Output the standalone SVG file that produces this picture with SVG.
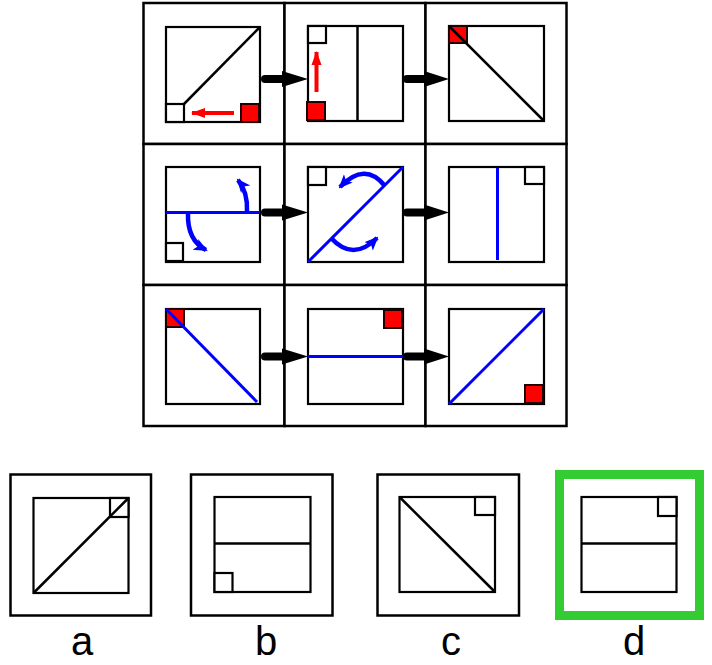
<svg xmlns="http://www.w3.org/2000/svg" width="712" height="665" viewBox="0 0 712 665">
<style>
.cell{fill:#fff;stroke:#000;stroke-width:2.5}
.inner{fill:#fff;stroke:#000;stroke-width:2.2}
.bl{stroke:#000;stroke-width:2.5;fill:none}
.blue{stroke:#0000ff;stroke-width:3;fill:none}
.sq{fill:#fff;stroke:#000;stroke-width:2.2}
.red{fill:#ff0000;stroke:#200;stroke-width:2}
.redl{stroke:#ff0000;stroke-width:4;fill:none}
.arc{stroke:#0000ff;stroke-width:4.5;fill:none}
.conn{stroke:#000;stroke-width:8;stroke-linecap:round;fill:none}
.lbl{font-family:"Liberation Sans",Arial,sans-serif;font-size:40px;fill:#000;text-anchor:middle}
</style>
<defs>
<marker id="bh" markerUnits="userSpaceOnUse" markerWidth="14" markerHeight="14" viewBox="0 0 14 14" refX="12" refY="7" orient="auto">
<path d="M0,1 L14,7 L0,13 L3.5,7 Z" fill="#0000ff"/>
</marker>
<marker id="rh" markerUnits="userSpaceOnUse" markerWidth="14" markerHeight="11" viewBox="0 0 14 11" refX="13" refY="5.5" orient="auto">
<path d="M0,0.5 L14,5.5 L0,10.5 Z" fill="#ff0000"/>
</marker>
</defs>

<g id="cell-1-1">
<rect class="cell" x="143.5" y="3" width="141" height="141"/>
<rect class="inner" x="166" y="27" width="94" height="95"/>
<line class="bl" x1="183" y1="105" x2="260" y2="27"/>
<rect class="sq" x="166" y="104" width="18" height="18"/>
<rect class="red" x="241" y="104" width="18" height="18"/>
<line class="redl" x1="234" y1="113" x2="192" y2="113" marker-end="url(#rh)"/>
</g>
<g id="cell-1-2">
<rect class="cell" x="284.5" y="3" width="141" height="141"/>
<rect class="inner" x="308" y="26" width="95" height="95"/>
<line class="bl" x1="357.5" y1="26" x2="357.5" y2="121"/>
<rect class="sq" x="308" y="26" width="18" height="17"/>
<rect class="red" x="307" y="102" width="18" height="18"/>
<line class="redl" x1="316.5" y1="92" x2="316.5" y2="52" marker-end="url(#rh)"/>
</g>
<g id="cell-1-3">
<rect class="cell" x="425.5" y="3" width="141" height="141"/>
<rect class="inner" x="449" y="26" width="95" height="95"/>
<rect class="red" x="449" y="26" width="18" height="17"/>
<line class="bl" x1="449" y1="26" x2="544" y2="121"/>
</g>

<g id="cell-2-1">
<rect class="cell" x="143.5" y="144" width="141" height="141"/>
<rect class="inner" x="166" y="167" width="94" height="95"/>
<line class="blue" x1="166" y1="212.5" x2="260" y2="212.5"/>
<rect class="sq" x="166" y="243" width="17" height="18"/>
<path class="arc" d="M247,212 Q248,192 238,180" marker-end="url(#bh)"/>
<path class="arc" d="M188,213 Q187,240 206,250" marker-end="url(#bh)"/>
</g>
<g id="cell-2-2">
<rect class="cell" x="284.5" y="144" width="141" height="141"/>
<rect class="inner" x="308" y="167" width="95" height="95"/>
<rect class="sq" x="308" y="167" width="18" height="18"/>
<line class="blue" x1="308" y1="262" x2="403" y2="167"/>
<path class="arc" d="M385,186 Q365,161 340,187" marker-end="url(#bh)"/>
<path class="arc" d="M331,238 Q353,262 377,238" marker-end="url(#bh)"/>
</g>
<g id="cell-2-3">
<rect class="cell" x="425.5" y="144" width="141" height="141"/>
<rect class="inner" x="449" y="167" width="95" height="95"/>
<line class="blue" x1="497.5" y1="168" x2="497.5" y2="260"/>
<rect class="sq" x="525" y="167" width="19" height="17"/>
</g>

<g id="cell-3-1">
<rect class="cell" x="143.5" y="285" width="141" height="141"/>
<rect class="inner" x="166" y="309" width="94" height="95"/>
<rect class="red" x="166" y="309" width="18" height="18"/>
<line class="blue" x1="166" y1="309" x2="257" y2="402"/>
</g>
<g id="cell-3-2">
<rect class="cell" x="284.5" y="285" width="141" height="141"/>
<rect class="inner" x="308" y="309" width="95" height="95"/>
<rect class="red" x="384" y="310" width="18" height="18"/>
<line class="blue" x1="308" y1="356.5" x2="403" y2="356.5"/>
</g>
<g id="cell-3-3">
<rect class="cell" x="425.5" y="285" width="141" height="141"/>
<rect class="inner" x="449" y="309" width="95" height="95"/>
<line class="blue" x1="449" y1="404" x2="544" y2="309"/>
<rect class="red" x="525" y="385" width="18" height="18"/>
</g>

<g id="connectors">
<line class="conn" x1="265" y1="79" x2="285" y2="79"/>
<path d="M282,71 L308,79 L282,87 Z"/>
<line class="conn" x1="407" y1="79" x2="427" y2="79"/>
<path d="M424,71 L449,79 L424,87 Z"/>
<line class="conn" x1="265" y1="212.5" x2="285" y2="212.5"/>
<path d="M282,204.5 L308,212.5 L282,220.5 Z"/>
<line class="conn" x1="407" y1="212.5" x2="427" y2="212.5"/>
<path d="M424,204.5 L449,212.5 L424,220.5 Z"/>
<line class="conn" x1="265" y1="356.5" x2="285" y2="356.5"/>
<path d="M282,348.5 L308,356.5 L282,364.5 Z"/>
<line class="conn" x1="407" y1="356.5" x2="427" y2="356.5"/>
<path d="M424,348.5 L449,356.5 L424,364.5 Z"/>
</g>

<g id="option-a">
<rect class="cell" x="10.5" y="474.5" width="140.5" height="141"/>
<rect class="inner" x="33.5" y="498" width="95" height="95"/>
<rect class="sq" x="110" y="498" width="18.5" height="19"/>
<line class="bl" x1="33.5" y1="593" x2="128.5" y2="498"/>
<text class="lbl" x="82" y="655">a</text>
</g>
<g id="option-b">
<rect class="cell" x="191" y="474.5" width="141.5" height="141"/>
<rect class="inner" x="214.5" y="497" width="96" height="95"/>
<line class="bl" x1="214.5" y1="543.5" x2="310.5" y2="543.5"/>
<rect class="sq" x="214.5" y="573" width="18" height="19"/>
<text class="lbl" x="266" y="655">b</text>
</g>
<g id="option-c">
<rect class="cell" x="377.5" y="474.5" width="141.5" height="141"/>
<rect class="inner" x="399.5" y="497" width="95.5" height="95"/>
<line class="bl" x1="399.5" y1="497" x2="495" y2="592"/>
<rect class="sq" x="475" y="497" width="20" height="18"/>
<text class="lbl" x="451" y="655">c</text>
</g>
<g id="option-d">
<rect x="559.5" y="474.5" width="140" height="141" fill="#fff" stroke="#33cc33" stroke-width="9"/>
<rect class="inner" x="581.5" y="497" width="95" height="95"/>
<line class="bl" x1="581.5" y1="543.5" x2="676.5" y2="543.5"/>
<rect class="sq" x="658" y="497" width="18.5" height="19"/>
<text class="lbl" x="634" y="655">d</text>
</g>
</svg>
